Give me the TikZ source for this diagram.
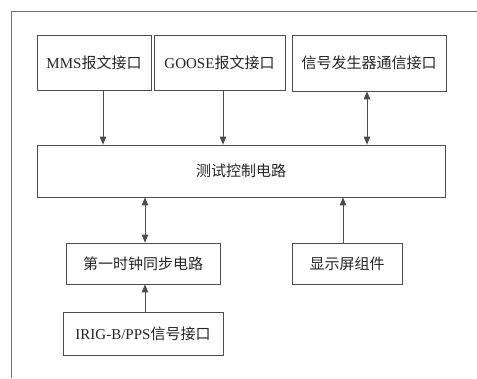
\documentclass[tikz,border=0pt]{standalone}
\usepackage{fontspec}
\setmainfont{Liberation Serif}
\newfontfamily\cjk{Noto Sans CJK SC}
\usepackage{tikz}
\usetikzlibrary{calc,arrows,positioning}
\newcommand{\cn}[1]{{\cjk #1}}

\begin{document}
\begin{tikzpicture}[x=1pt,y=-1pt,
    lnk/.style={draw=black!70,line width=0.8pt,>=triangle 45},
    blk/.style={draw=black!70,line width=0.8pt,fill=white,inner sep=0pt,text=black!85,font=\fontsize{15}{17}\selectfont}]
    \useasboundingbox (0,0) rectangle (477,378);
    % outer frame (cut off on the right and below)
    \draw[black!55,line width=0.8pt] (11,378) -- (11,11.5) -- (477,11.5);

    \node[blk,minimum width=114pt,minimum height=55pt] (mms) at (94,62.5) {MMS\cn{报文接口}};
    \node[blk,minimum width=131pt,minimum height=55pt] (goose) at (219.5,62.5) {GOOSE\cn{报文接口}};
    \node[blk,minimum width=154pt,minimum height=56pt] (siggen) at (369,63) {\cn{信号发生器通信接口}};
    \node[blk,minimum width=408pt,minimum height=52pt] (ctrl) at (241,171) {\cn{测试控制电路}};
    \node[blk,minimum width=154pt,minimum height=41pt] (clock) at (143,263.5) {\cn{第一时钟同步电路}};
    \node[blk,minimum width=110pt,minimum height=41pt] (disp) at (347,263.5) {\cn{显示屏组件}};
    \node[blk,minimum width=160pt,minimum height=43pt] (irig) at (143,333.5) {IRIG-B/PPS\cn{信号接口}};

    \draw[lnk,->] ([xshift=9pt]mms.south) -- ([xshift=9pt]mms.south |- ctrl.north);
    \draw[lnk,->] ([xshift=3.5pt]goose.south) -- ([xshift=3.5pt]goose.south |- ctrl.north);
    \draw[lnk,<->] ([xshift=-2pt]siggen.south) -- ([xshift=-2pt]siggen.south |- ctrl.north);
    \draw[lnk,<->] ([xshift=2pt]clock.north) -- ([xshift=2pt]clock.north |- ctrl.south);
    \draw[lnk,->] ([xshift=-4pt]disp.north) -- ([xshift=-4pt]disp.north |- ctrl.south);
    \draw[lnk,->] ([xshift=2pt]irig.north) -- ([xshift=2pt]clock.south);

\end{tikzpicture}
\end{document}
